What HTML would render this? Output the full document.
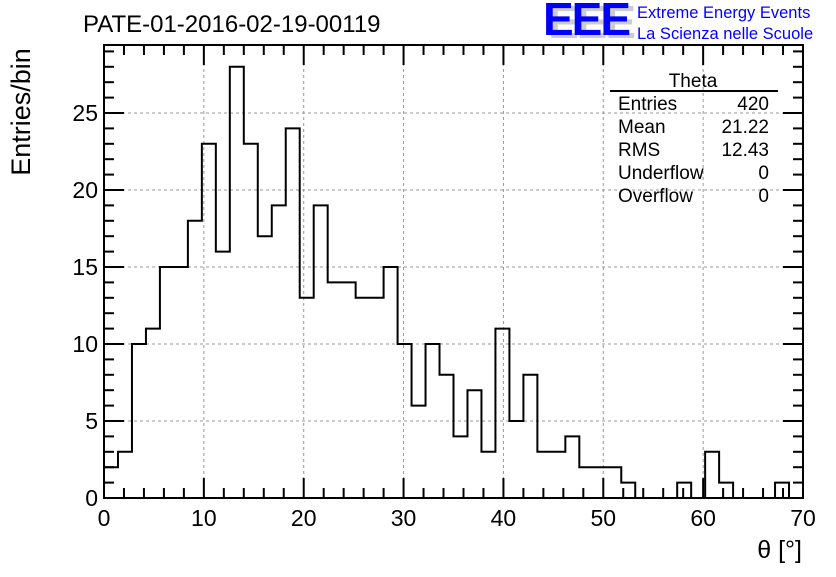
<!DOCTYPE html>
<html><head><meta charset="utf-8"><style>
body{margin:0;background:#fff;}
svg text{font-family:"Liberation Sans",sans-serif;}
</style></head><body>
<svg id="c" width="836" height="572" xmlns="http://www.w3.org/2000/svg">
<text x="83" y="32" font-size="24">PATE-01-2016-02-19-00119</text>
<g>
<text x="548" y="38" font-size="46" fill="#ccc" font-weight="bold" letter-spacing="-2">EEE</text>
<text x="543" y="35" font-size="46" fill="#0000ff" font-weight="bold" letter-spacing="-2">EEE</text>
<text x="637" y="18" font-size="16.5" fill="#0000ff">Extreme Energy Events</text>
<text x="637" y="39" font-size="16.5" fill="#0000ff">La Scienza nelle Scuole</text>
</g>
<text transform="translate(30,112) rotate(-90)" text-anchor="middle" font-size="27">Entries/bin</text>
<text x="802" y="558" text-anchor="end" font-size="25">θ [°]</text>
<g id="grid"></g><g id="axes"></g><path id="hist" fill="none" stroke="#000" stroke-width="2"/>
<rect x="104" y="45" width="699" height="453" fill="none" stroke="#000" stroke-width="2"/>
<g font-size="19">
<text x="693" y="87" text-anchor="middle">Theta</text>
<line x1="610" y1="91" x2="778" y2="91" stroke="#000" stroke-width="2"/>
<text x="618" y="110">Entries</text><text x="769" y="110" text-anchor="end">420</text>
<text x="618" y="133">Mean</text><text x="769" y="133" text-anchor="end">21.22</text>
<text x="618" y="156">RMS</text><text x="769" y="156" text-anchor="end">12.43</text>
<text x="618" y="179">Underflow</text><text x="769" y="179" text-anchor="end">0</text>
<text x="618" y="202">Overflow</text><text x="769" y="202" text-anchor="end">0</text>
</g>
</svg>
<script>
const counts=[2,3,10,11,15,15,18,23,16,28,23,17,19,24,13,19,14,14,13,13,15,10,6,10,8,4,7,3,11,5,8,3,3,4,2,2,2,1,0,0,0,1,0,3,1,0,0,0,1,0];
const binWidth=1.4;
const xTicks=[0,10,20,30,40,50,60,70];
const yTicks=[0,5,10,15,20,25];
const X0=104,X1=803,Y0=498,YT=45,xmax=70,ymax=(498-45)/15.4;
const sx=v=>X0+(v/xmax)*(X1-X0);
const sy=v=>Y0-(v/ymax)*(Y0-YT);
const NS="http://www.w3.org/2000/svg";
function mk(t,a,p){const e=document.createElementNS(NS,t);for(const k in a)e.setAttribute(k,a[k]);p.appendChild(e);return e;}
const grid=document.getElementById('grid'),axes=document.getElementById('axes');
xTicks.forEach(v=>{
 if(v>0&&v<xmax){const g=mk('line',{x1:sx(v),x2:sx(v),y1:YT,y2:Y0,stroke:'#999','stroke-dasharray':'3,3'},grid);
 
 }
 const t=mk('text',{x:sx(v),y:Y0+28,'text-anchor':'middle','font-size':'23'},axes);t.textContent=v;
 
 
});
yTicks.forEach(v=>{
 if(v>0){const g=mk('line',{x1:X0,x2:X1,y1:sy(v),y2:sy(v),stroke:'#999','stroke-dasharray':'3,3'},grid);
 
 }
 const t=mk('text',{x:X0-6,y:sy(v)+8,'text-anchor':'end','font-size':'23'},axes);t.textContent=v;
 
 
});
for(let v=0;v<=xmax;v+=2){const L=v%10===0?20:10;
 mk('line',{x1:sx(v),x2:sx(v),y1:Y0,y2:Y0-L,stroke:'#000','stroke-width':2},axes);
 mk('line',{x1:sx(v),x2:sx(v),y1:YT,y2:YT+L,stroke:'#000','stroke-width':2},axes);}
for(let v=0;v<=ymax;v+=1){const L=v%5===0?20:10;
 mk('line',{x1:X0,x2:X0+L,y1:sy(v),y2:sy(v),stroke:'#000','stroke-width':2},axes);
 mk('line',{x1:X1,x2:X1-L,y1:sy(v),y2:sy(v),stroke:'#000','stroke-width':2},axes);}
let d=`M${sx(0)},${sy(0)}`;
counts.forEach((c,i)=>{d+=` L${sx(i*binWidth)},${sy(c)} L${sx((i+1)*binWidth)},${sy(c)}`;});
d+=` L${sx(counts.length*binWidth)},${sy(0)}`;
document.getElementById('hist').setAttribute('d',d);
</script>
</body></html>
